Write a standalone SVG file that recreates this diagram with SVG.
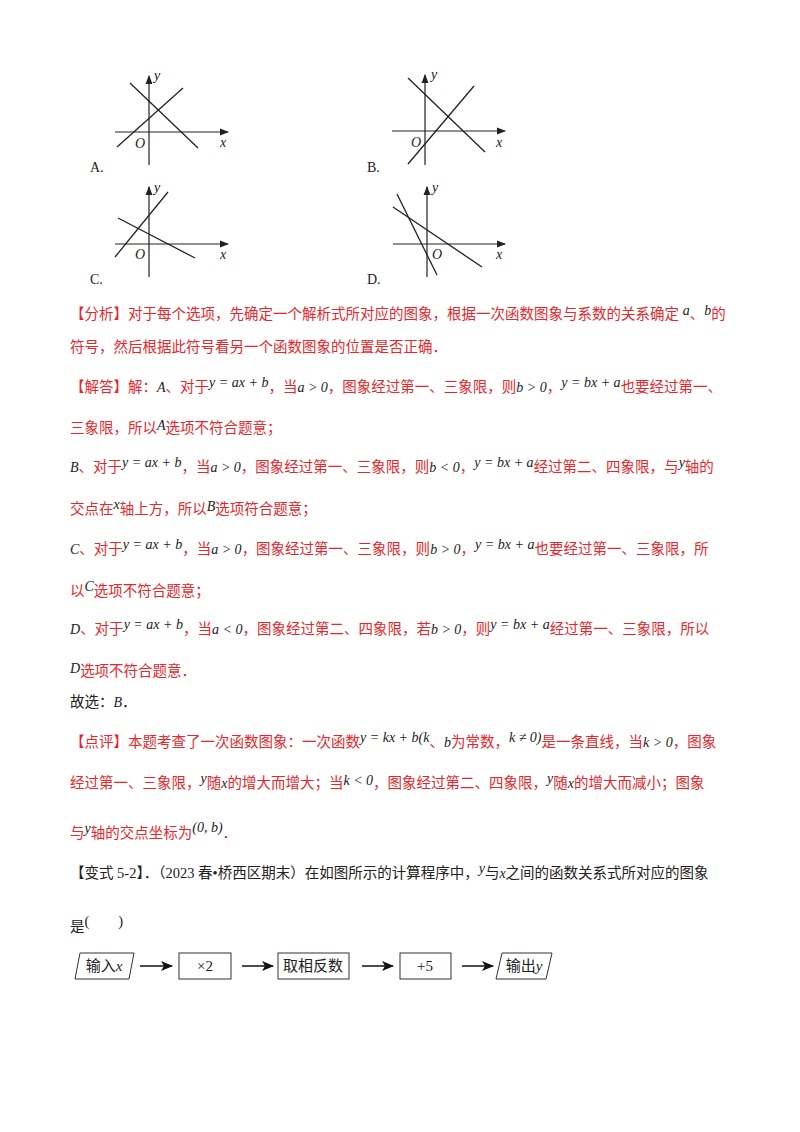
<svg xmlns="http://www.w3.org/2000/svg" width="800" height="1132" viewBox="0 0 800 1132">
<style>
.ax{stroke:#222;stroke-width:1.2;fill:none}
.ln{stroke:#222;stroke-width:1.3;fill:none}
.lb{font-family:"Liberation Serif",serif;font-style:italic;font-size:14px;fill:#222}
.opt{font-family:"Liberation Serif",serif;font-size:14px;fill:#222}
.r{font-family:"Liberation Serif","Noto Sans CJK SC",serif;font-size:14.5px;fill:#e8262b}
.k{font-family:"Liberation Serif","Noto Sans CJK SC",serif;font-size:14.5px;fill:#222}
.m{font-family:"Liberation Serif",serif;font-style:italic;font-size:14px;fill:#222}
.box{fill:#fff;stroke:#333;stroke-width:1}
.bt{font-family:"Liberation Serif","Noto Sans CJK SC",serif;font-size:15px;fill:#222;text-anchor:middle}
</style>
<defs>
<marker id="ah" markerWidth="8" markerHeight="6" refX="7" refY="3" orient="auto"><path d="M0,0 L8,3 L0,6 Z" fill="#222"/></marker>
<marker id="fa" markerWidth="12" markerHeight="10" refX="11" refY="5" orient="auto" markerUnits="userSpaceOnUse"><path d="M0,0 L12,5 L0,10 L3,5 Z" fill="#111"/></marker>
</defs>
<g id="graphA">
<line class="ax" x1="115" y1="132" x2="228" y2="132" marker-end="url(#ah)"/>
<line class="ax" x1="149" y1="165" x2="149" y2="76" marker-end="url(#ah)"/>
<line class="ln" x1="117" y1="147" x2="183" y2="88"/>
<line class="ln" x1="130" y1="83" x2="198" y2="148"/>
<text class="lb" x="135" y="148">O</text><text class="lb" x="220" y="147">x</text><text class="lb" x="154" y="80">y</text>
<text class="opt" x="90" y="172">A.</text>
</g>
<g id="graphB">
<line class="ax" x1="392" y1="131" x2="505" y2="131" marker-end="url(#ah)"/>
<line class="ax" x1="425" y1="165" x2="425" y2="75" marker-end="url(#ah)"/>
<line class="ln" x1="408" y1="164" x2="474" y2="86"/>
<line class="ln" x1="408" y1="78" x2="485" y2="152"/>
<text class="lb" x="411" y="147">O</text><text class="lb" x="496" y="147">x</text><text class="lb" x="431" y="79">y</text>
<text class="opt" x="367" y="172">B.</text>
</g>
<g id="graphC">
<line class="ax" x1="115" y1="244" x2="228" y2="244" marker-end="url(#ah)"/>
<line class="ax" x1="149" y1="277" x2="149" y2="187" marker-end="url(#ah)"/>
<line class="ln" x1="115" y1="257" x2="168" y2="192"/>
<line class="ln" x1="118" y1="218" x2="195" y2="258"/>
<text class="lb" x="135" y="259">O</text><text class="lb" x="220" y="259">x</text><text class="lb" x="154" y="192">y</text>
<text class="opt" x="90" y="284">C.</text>
</g>
<g id="graphD">
<line class="ax" x1="393" y1="244" x2="505" y2="244" marker-end="url(#ah)"/>
<line class="ax" x1="427" y1="277" x2="427" y2="187" marker-end="url(#ah)"/>
<line class="ln" x1="397" y1="194" x2="437" y2="275"/>
<line class="ln" x1="393" y1="207" x2="482" y2="267"/>
<text class="lb" x="432" y="259">O</text><text class="lb" x="496" y="259">x</text><text class="lb" x="432" y="192">y</text>
<text class="opt" x="367" y="284">D.</text>
</g>
<g id="text">
<text class="r" x="70" y="319">【分析】对于每个选项，先确定一个解析式所对应的图象，根据一次函数图象与系数的关系确定 <tspan class="m" dy="-4">a</tspan><tspan dy="4">、</tspan><tspan class="m" dy="-4">b</tspan><tspan dy="4">的</tspan></text>
<text class="r" x="70" y="352">符号，然后根据此符号看另一个函数图象的位置是否正确．</text>
<text class="r" x="70" y="392">【解答】解：<tspan class="m">A</tspan>、对于<tspan class="m" dy="-5">y = ax + b</tspan><tspan dy="5">，当</tspan><tspan class="m">a &gt; 0</tspan>，图象经过第一、三象限，则<tspan class="m">b &gt; 0</tspan>，<tspan class="m" dy="-5">y = bx + a</tspan><tspan dy="5">也要经过第一、</tspan></text>
<text class="r" x="70" y="433">三象限，所以<tspan class="m" dy="-3">A</tspan><tspan dy="3">选项不符合题意；</tspan></text>
<text class="r" x="70" y="472"><tspan class="m">B</tspan>、对于<tspan class="m" dy="-5">y = ax + b</tspan><tspan dy="5">，当</tspan><tspan class="m">a &gt; 0</tspan>，图象经过第一、三象限，则<tspan class="m">b &lt; 0</tspan>，<tspan class="m" dy="-5">y = bx + a</tspan><tspan dy="5">经过第二、四象限，与</tspan><tspan class="m" dy="-5">y</tspan><tspan dy="5">轴的</tspan></text>
<text class="r" x="70" y="514">交点在<tspan class="m" dy="-5">x</tspan><tspan dy="5">轴上方，所以</tspan><tspan class="m" dy="-3">B</tspan><tspan dy="3">选项符合题意；</tspan></text>
<text class="r" x="70" y="554"><tspan class="m">C</tspan>、对于<tspan class="m" dy="-5">y = ax + b</tspan><tspan dy="5">，当</tspan><tspan class="m">a &gt; 0</tspan>，图象经过第一、三象限，则<tspan class="m">b &gt; 0</tspan>，<tspan class="m" dy="-5">y = bx + a</tspan><tspan dy="5">也要经过第一、三象限，所</tspan></text>
<text class="r" x="70" y="596">以<tspan class="m" dy="-5">C</tspan><tspan dy="5">选项不符合题意；</tspan></text>
<text class="r" x="70" y="634"><tspan class="m">D</tspan>、对于<tspan class="m" dy="-5">y = ax + b</tspan><tspan dy="5">，当</tspan><tspan class="m">a &lt; 0</tspan>，图象经过第二、四象限，若<tspan class="m">b &gt; 0</tspan>，则<tspan class="m" dy="-5">y = bx + a</tspan><tspan dy="5">经过第一、三象限，所以</tspan></text>
<text class="r" x="70" y="676"><tspan class="m" dy="-3">D</tspan><tspan dy="3">选项不符合题意．</tspan></text>
<text class="k" x="70" y="707">故选：<tspan class="m">B</tspan>．</text>
<text class="r" x="70" y="747">【点评】本题考查了一次函数图象：一次函数<tspan class="m" dy="-5">y = kx + b(k</tspan><tspan dy="5">、</tspan><tspan class="m">b</tspan>为常数，<tspan class="m" dy="-5">k ≠ 0)</tspan><tspan dy="5">是一条直线，当</tspan><tspan class="m">k &gt; 0</tspan>，图象</text>
<text class="r" x="70" y="788">经过第一、三象限，<tspan class="m" dy="-5">y</tspan><tspan dy="5">随</tspan><tspan class="m">x</tspan>的增大而增大；当<tspan class="m" dy="-3">k &lt; 0</tspan><tspan dy="3">，图象经过第二、四象限，</tspan><tspan class="m" dy="-5">y</tspan><tspan dy="5">随</tspan><tspan class="m">x</tspan>的增大而减小；图象</text>
<text class="r" x="70" y="838">与<tspan class="m" dy="-5">y</tspan><tspan dy="5">轴的交点坐标为</tspan><tspan class="m" dy="-6">(0, b)</tspan><tspan dy="6">．</tspan></text>
<text class="k" x="70" y="878">【变式 5-2】．（2023 春•桥西区期末）在如图所示的计算程序中，<tspan class="m" dy="-5">y</tspan><tspan dy="5">与</tspan><tspan class="m">x</tspan>之间的函数关系式所对应的图象</text>
<text class="k" x="70" y="932">是<tspan dy="-6">(　　)</tspan></text>
</g>
<g id="n1"><polygon class="box" points="80,953 134,953 129,979 75,979"/><text class="bt" x="104" y="971">输入<tspan font-style="italic">x</tspan></text></g>
<g id="n2"><rect class="box" x="179" y="953" width="52" height="26"/><text class="bt" x="205" y="971">×2</text></g>
<g id="n3"><rect class="box" x="278" y="953" width="71" height="26"/><text class="bt" x="313" y="971">取相反数</text></g>
<g id="n4"><rect class="box" x="400" y="953" width="51" height="26"/><text class="bt" x="425" y="971">+5</text></g>
<g id="n5"><polygon class="box" points="502,953 552,953 546,979 496,979"/><text class="bt" x="524" y="971">输出<tspan font-style="italic">y</tspan></text></g>
<g id="connectors" stroke="#111" stroke-width="1.5">
<line x1="140" y1="966" x2="172" y2="966" marker-end="url(#fa)"/>
<line x1="242" y1="966" x2="273" y2="966" marker-end="url(#fa)"/>
<line x1="362" y1="966" x2="393" y2="966" marker-end="url(#fa)"/>
<line x1="462" y1="966" x2="493" y2="966" marker-end="url(#fa)"/>
</g>
</svg>
